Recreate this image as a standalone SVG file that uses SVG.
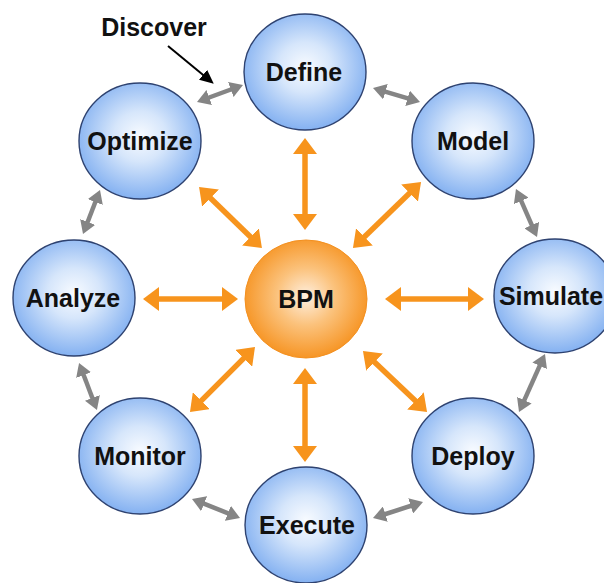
<svg xmlns="http://www.w3.org/2000/svg" width="604" height="583" viewBox="0 0 604 583">
  <style>
    .node ellipse.blue { fill: url(#gBlue); stroke: #2E4270; stroke-width: 1.4; }
    .lbl { font-family: "Liberation Sans", Arial, sans-serif; font-weight: bold; font-size: 25px; fill: #111; text-anchor: middle; }
    .oa { stroke: #F7941D; stroke-width: 5.5; fill: none; marker-start: url(#mO); marker-end: url(#mO); }
    .ga { stroke: #858585; stroke-width: 4.5; fill: none; marker-start: url(#mG); marker-end: url(#mG); }
  </style>
  <defs>
    <radialGradient id="gBlue" cx="50%" cy="46%" r="54%">
      <stop offset="0" stop-color="#F8FBFF"/>
      <stop offset="0.4" stop-color="#D6E6FB"/>
      <stop offset="1" stop-color="#84B1F1"/>
    </radialGradient>
    <radialGradient id="gOrange" cx="50%" cy="48%" r="54%">
      <stop offset="0" stop-color="#FEEFDF"/>
      <stop offset="0.45" stop-color="#FBC27C"/>
      <stop offset="1" stop-color="#F6921F"/>
    </radialGradient>
    <marker id="mO" markerUnits="userSpaceOnUse" markerWidth="17" markerHeight="24" refX="2" refY="12" orient="auto-start-reverse" viewBox="0 0 17 24">
      <path d="M0,0 L16,12 L0,24 z" fill="#F7941D"/>
    </marker>
    <marker id="mG" markerUnits="userSpaceOnUse" markerWidth="14" markerHeight="16" refX="3" refY="8" orient="auto-start-reverse" viewBox="0 0 14 16">
      <path d="M0,0 L13,8 L0,16 z" fill="#858585"/>
    </marker>
    <marker id="mB" markerUnits="userSpaceOnUse" markerWidth="15" markerHeight="13" refX="3" refY="6.5" orient="auto" viewBox="0 0 15 13">
      <path d="M0,0 L14,6.5 L0,13 z" fill="#000"/>
    </marker>
  </defs>
  <rect width="604" height="583" fill="#fff"/>

  <g id="connectors">
    <!-- orange: BPM to nodes -->
    <line class="oa" x1="305" y1="152" x2="305" y2="216"/>
    <line class="oa" x1="305" y1="382" x2="305" y2="448"/>
    <line class="oa" x1="157" y1="299" x2="224" y2="299"/>
    <line class="oa" x1="399" y1="299" x2="470" y2="299"/>
    <line class="oa" x1="209.1" y1="196.7" x2="251.9" y2="238.3"/>
    <line class="oa" x1="411" y1="191.7" x2="363" y2="238.3"/>
    <line class="oa" x1="245.1" y1="356.9" x2="199.9" y2="402.1"/>
    <line class="oa" x1="373.1" y1="360.7" x2="416.9" y2="402.3"/>
    <!-- gray: ring -->
    <line class="ga" x1="206.4" y1="98.5" x2="233.6" y2="88.5"/>
    <line class="ga" x1="382.6" y1="90.9" x2="410.4" y2="99.1"/>
    <line class="ga" x1="520" y1="198.2" x2="533" y2="227.8"/>
    <line class="ga" x1="540.9" y1="363.1" x2="523.1" y2="402.9"/>
    <line class="ga" x1="413.5" y1="505" x2="382.5" y2="515"/>
    <line class="ga" x1="230.7" y1="514.3" x2="201.3" y2="502.7"/>
    <line class="ga" x1="93.4" y1="400.7" x2="82.6" y2="372.3"/>
    <line class="ga" x1="86.6" y1="224.7" x2="96.4" y2="199.3"/>
    <!-- Discover pointer -->
    <line x1="168" y1="46" x2="205.3" y2="76.7" stroke="#000" stroke-width="2" marker-end="url(#mB)"/>
  </g>

  <text class="lbl" x="154" y="36">Discover</text>

  <g id="define" class="node"><ellipse class="blue" cx="305" cy="72" rx="61" ry="58"/><text class="lbl" x="304" y="81">Define</text></g>
  <g id="model" class="node"><ellipse class="blue" cx="473" cy="141" rx="61" ry="58"/><text class="lbl" x="473" y="150">Model</text></g>
  <g id="simulate" class="node"><ellipse class="blue" cx="555" cy="296" rx="61" ry="57"/><text class="lbl" x="551" y="305">Simulate</text></g>
  <g id="deploy" class="node"><ellipse class="blue" cx="473" cy="456" rx="61" ry="58"/><text class="lbl" x="473" y="465">Deploy</text></g>
  <g id="execute" class="node"><ellipse class="blue" cx="306" cy="525" rx="61" ry="58"/><text class="lbl" x="307" y="534">Execute</text></g>
  <g id="monitor" class="node"><ellipse class="blue" cx="140" cy="456" rx="61" ry="58"/><text class="lbl" x="140" y="465">Monitor</text></g>
  <g id="analyze" class="node"><ellipse class="blue" cx="74" cy="298" rx="61" ry="58"/><text class="lbl" x="73" y="307">Analyze</text></g>
  <g id="optimize" class="node"><ellipse class="blue" cx="140" cy="141" rx="61" ry="58"/><text class="lbl" x="140" y="150">Optimize</text></g>
  <g id="bpm" class="node"><ellipse cx="306" cy="299" rx="61" ry="59" fill="url(#gOrange)" stroke="#F39020" stroke-width="1"/><text class="lbl" x="306" y="308">BPM</text></g>
</svg>
